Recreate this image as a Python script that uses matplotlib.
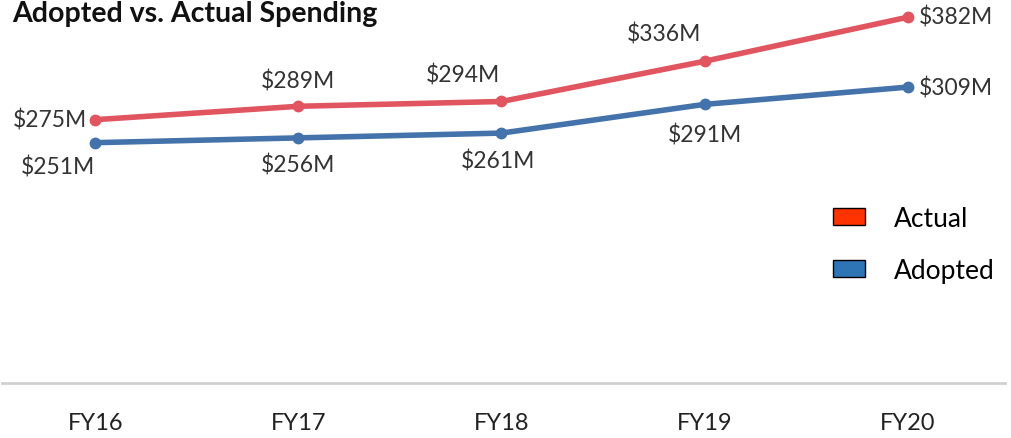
import matplotlib
matplotlib.use("Agg")
import matplotlib.pyplot as plt
from matplotlib.patches import Patch

years = ["FY16", "FY17", "FY18", "FY19", "FY20"]
actual = [275, 289, 294, 336, 382]
adopted = [251, 256, 261, 291, 309]

# label offsets in pixels (dx, dy, ha) for each point
actual_offsets = [(-8, 0, "right"), (0, 26, "center"), (-39, 27, "center"),
                  (-40, 28, "center"), (11, 1, "left")]
adopted_offsets = [(-37, -24, "center"), (0, -27, "center"), (-3, -27, "center"),
                   (0, -30, "center"), (11, 0, "left")]

plt.rcParams["font.family"] = ["Lato", "DejaVu Sans"]

fig = plt.figure(figsize=(10.12, 4.39), dpi=100)
ax = fig.add_axes([2 / 1012, 1 - 384 / 439, 1003 / 1012, 383 / 439])

x = list(range(len(years)))
red_line = "#e0555f"
blue_line = "#4472aa"
ax.plot(x, actual, color=red_line, lw=4, marker="o", ms=7.5, solid_capstyle="round")
ax.plot(x, adopted, color=blue_line, lw=4, marker="o", ms=7.5, solid_capstyle="round")

for xi, v, (dx, dy, ha) in zip(x, actual, actual_offsets):
    ax.annotate(f"${v}M", (xi, v), xytext=(dx, dy), textcoords="offset pixels",
                ha=ha, va="center", fontsize=16.5, color="#333333")
for xi, v, (dx, dy, ha) in zip(x, adopted, adopted_offsets):
    ax.annotate(f"${v}M", (xi, v), xytext=(dx, dy), textcoords="offset pixels",
                ha=ha, va="center", fontsize=16.5, color="#333333")

ax.set_xlim(-0.46, 4.48)
ax.set_ylim(0, 400)
ax.set_xticks(x)
ax.set_xticklabels(years, fontsize=17, color="#222222")
ax.set_yticks([])
ax.tick_params(axis="x", length=0, pad=21)
for side in ["top", "right", "left"]:
    ax.spines[side].set_visible(False)
ax.spines["bottom"].set_color("#d0d0d0")
ax.spines["bottom"].set_linewidth(2)
ax.patch.set_alpha(0)

fig.text(12 / 1012, 1 - 1 / 439, "Adopted vs. Actual Spending", ha="left", va="top",
         fontsize=20.5, fontweight="bold", color="#111111")

handles = [Patch(facecolor="#ff3300", edgecolor="black", label="Actual"),
           Patch(facecolor="#2e75b6", edgecolor="black", label="Adopted")]
fig.legend(handles=handles, loc="upper left", bbox_to_anchor=(809 / 1012, 1 - 183 / 439),
           frameon=False, fontsize=19, handlelength=1.23, handleheight=0.58,
           handletextpad=1.07, labelspacing=1.02)

fig.savefig("out.png", dpi=100)
